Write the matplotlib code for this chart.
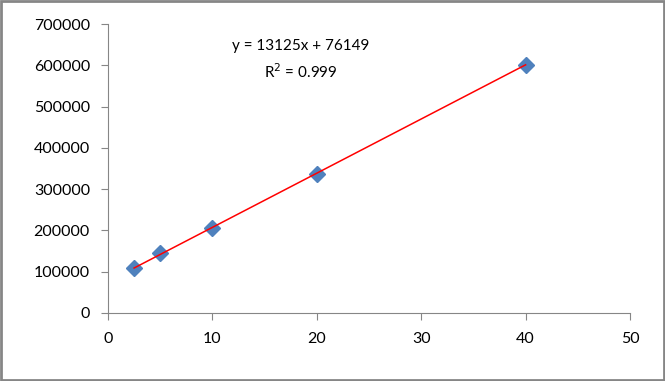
import numpy as np
import matplotlib
matplotlib.use('Agg')
import matplotlib.pyplot as plt
from matplotlib.patches import Rectangle

plt.rcParams['font.family'] = ['Lato', 'DejaVu Sans']

# concentrações e áreas
conc = [2.5, 5, 10, 20, 40]
area = [109000, 145000, 206000, 337000, 600500]
slope = 13125
intercept = 76149
xticks = [0, 10, 20, 30, 40, 50]
yticks = [0, 100000, 200000, 300000, 400000, 500000, 600000, 700000]

fig = plt.figure(figsize=(6.65, 3.81), dpi=100)
ax = fig.add_axes([108/665, 1-313/381, (630-108)/665, (313-24)/381])

xl = np.array([conc[0], conc[-1]])
ax.plot(xl, slope*xl + intercept, color='#FF0000', lw=1.1, zorder=3)
ax.plot(conc, area, 'D', color='#4F81BD', ms=8, mec='#4F81BD', zorder=2)

ax.set_xlim(0, 50)
ax.set_ylim(0, 700000)
ax.set_xticks(xticks)
ax.set_yticks(yticks)
ax.set_xticklabels([str(v) for v in xticks])
ax.set_yticklabels([str(v) for v in yticks])
for s in ['top', 'right']:
    ax.spines[s].set_visible(False)
for s in ['left', 'bottom']:
    ax.spines[s].set_color('#868686')
ax.tick_params(colors='#868686', labelcolor='black', labelsize=11.5, length=5, direction='out')
ax.tick_params(axis='x', pad=9)
ax.tick_params(axis='y', pad=8)

ax.text(0.37, 0.876, 'y = 13125x + 76149\nR$^2$ = 0.999', transform=ax.transAxes,
        ha='center', va='center', fontsize=11, linespacing=1.55)

fig.patches.append(Rectangle((0.0015, 0.002), 0.997, 0.995, transform=fig.transFigure,
                             fill=False, ec='#868686', lw=2))

fig.savefig('out.png', dpi=100)
